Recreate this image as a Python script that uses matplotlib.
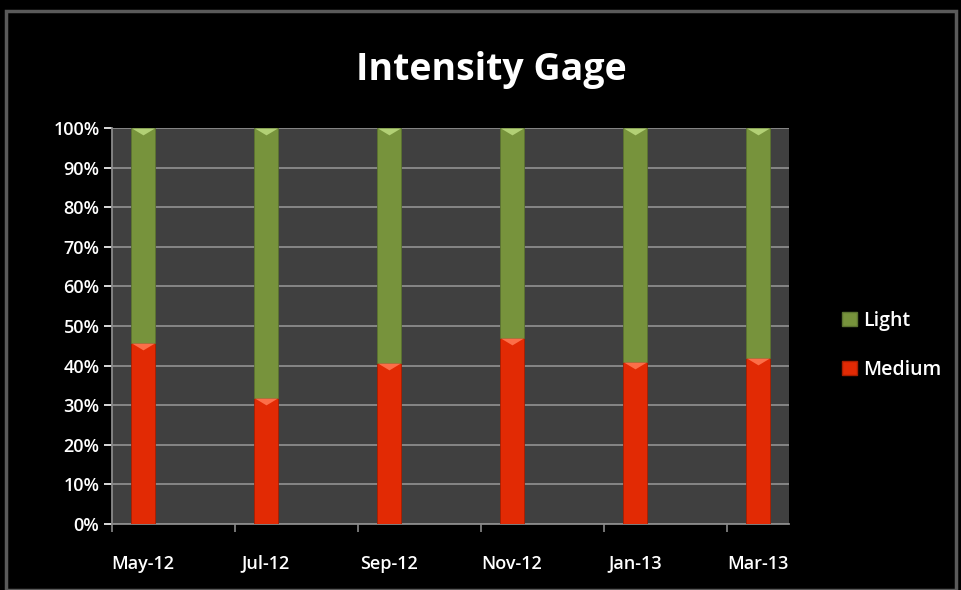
import matplotlib.pyplot as plt
from matplotlib.patches import Rectangle, Patch
from matplotlib.path import Path
import numpy as np

# Data (share of sessions by intensity)
months = ['May-12', 'Jun-12', 'Jul-12', 'Aug-12', 'Sep-12', 'Oct-12',
          'Nov-12', 'Dec-12', 'Jan-13', 'Feb-13', 'Mar-13']
bar_months = ['May-12', 'Jul-12', 'Sep-12', 'Nov-12', 'Jan-13', 'Mar-13']
medium = np.array([45.7, 31.9, 40.6, 47.0, 40.8, 41.8])
light = 100 - medium

red = '#e22a04'
green = '#77933c'

plt.rcParams['font.family'] = ['Open Sans', 'DejaVu Sans']

fig = plt.figure(figsize=(9.62, 5.9), dpi=100, facecolor='black')
# outer chart frame
fig.patches.append(Rectangle((0.006, 0.0), 0.988, 0.982, transform=fig.transFigure,
                             fill=False, edgecolor='#5a5a5a', linewidth=2.5))

ax = fig.add_axes([0.1164, 0.1119, 0.7038, 0.6712])
ax.set_facecolor('#404040')

x = np.array([months.index(m) for m in bar_months])
w = 0.39
ax.bar(x, medium, width=w, color=red, edgecolor='#a81e00', linewidth=0.6,
       label='Medium', zorder=3)
ax.bar(x, light, bottom=medium, width=w, color=green, edgecolor='#5b7330',
       linewidth=0.6, label='Light', zorder=3)

# bevel highlights at top of each segment
bevel = Path([(-1, 0), (1, 0), (0, -0.6), (-1, 0)],
             [Path.MOVETO, Path.LINETO, Path.LINETO, Path.CLOSEPOLY])
ax.plot(x, medium, linestyle='none', marker=bevel, color='#ff7650',
        markersize=16.5, markeredgewidth=0, zorder=4, alpha=0.9)
ax.plot(x, medium + light, linestyle='none', marker=bevel, color='#b9d77c',
        markersize=16.5, markeredgewidth=0, zorder=4, alpha=0.9, clip_on=False)

ax.set_xlim(-0.5, len(months) - 0.5)
ax.set_ylim(0, 100)
ax.set_yticks(np.arange(0, 101, 10))
ax.set_yticklabels([f'{v}%' for v in range(0, 101, 10)])
ax.set_xticks(x)
ax.set_xticklabels(bar_months)
ax.set_xticks(np.arange(-0.5, len(months), 2), minor=True)
ax.tick_params(axis='x', which='major', length=0, pad=22)
ax.tick_params(axis='x', which='minor', length=6, color='#8a8a8a', width=1.2)
ax.tick_params(axis='y', length=6, color='#8a8a8a', width=1.2, pad=3)
ax.tick_params(colors='white', labelsize=13)
for lab in ax.get_xticklabels() + ax.get_yticklabels():
    lab.set_fontweight('semibold')

ax.yaxis.grid(True, color='#8c8c8c', linewidth=1.3, zorder=0)
ax.set_axisbelow(True)
for s in ['top', 'right']:
    ax.spines[s].set_visible(False)
for s in ['left', 'bottom']:
    ax.spines[s].set_color('#8a8a8a')
    ax.spines[s].set_linewidth(1.3)

fig.text(0.511, 0.882, 'Intensity Gage', color='white', fontsize=27,
         fontweight='bold', ha='center', va='center')

handles = [Patch(facecolor=green, edgecolor='#5b7330'),
           Patch(facecolor=red, edgecolor='#a81e00')]
leg = fig.legend(handles, ['Light', 'Medium'], loc='center left',
                 bbox_to_anchor=(0.857, 0.415), frameon=False,
                 prop={'size': 14, 'weight': 'semibold'}, labelcolor='white',
                 handlelength=0.75, handleheight=0.75, handletextpad=0.35,
                 labelspacing=1.5)

fig.savefig('out.png', dpi=100, facecolor='black')
